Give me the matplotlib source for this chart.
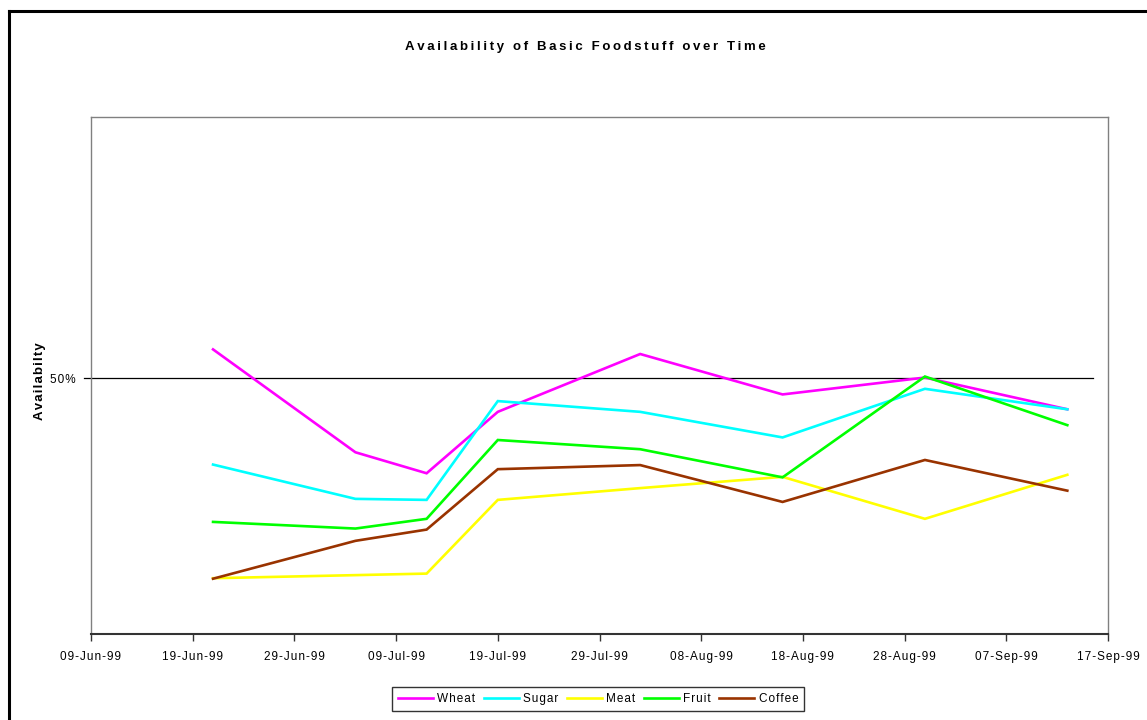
import numpy as np
import pandas as pd
import matplotlib
matplotlib.use("Agg")
import matplotlib.pyplot as plt
import matplotlib.dates as mdates
import matplotlib.transforms as mtransforms
from matplotlib.lines import Line2D

plt.rcParams["font.family"] = ["Liberation Sans", "DejaVu Sans"]

dates = pd.to_datetime(["1999-06-21", "1999-07-05", "1999-07-12", "1999-07-19",
                        "1999-08-02", "1999-08-16", "1999-08-30", "1999-09-13"])

wheat = [0.556, 0.355, 0.314, 0.434, 0.547, 0.468, 0.501, 0.439]
sugar = [0.331, 0.264, 0.262, 0.455, 0.434, 0.384, 0.479, 0.439]
meat = [0.109, 0.115, 0.118, 0.262, 0.285, 0.307, 0.225, 0.311]
fruit = [0.219, 0.206, 0.225, 0.379, 0.361, 0.306, 0.503, 0.408]
coffee = [0.108, 0.182, 0.204, 0.322, 0.330, 0.258, 0.340, 0.280]

series = [("Wheat", wheat, "#FF00FF"),
          ("Sugar", sugar, "#00FFFF"),
          ("Meat", meat, "#FFFF00"),
          ("Fruit", fruit, "#00FF00"),
          ("Coffee", coffee, "#993300")]

x_start = pd.Timestamp("1999-06-09")
x_end = pd.Timestamp("1999-09-17")


def spaced(s, gap="\u200a"):
    # widen the tracking a little by putting a narrow space between letters
    return gap.join(s)


fig = plt.figure(figsize=(11.47, 7.2), dpi=100)
ax = fig.add_axes([91 / 1147, 86 / 720, 1017 / 1147, 517 / 720])

for name, vals, color in series:
    ax.plot(dates, vals, color=color, linewidth=1.9, label=spaced(name),
            solid_joinstyle="miter")

# 50% reference line, running slightly past the left axis
trans = mtransforms.blended_transform_factory(ax.transAxes, ax.transData)
ax.plot([-0.007, 0.985], [0.5, 0.5], color="black", linewidth=0.9,
        transform=trans, clip_on=False, zorder=1)

ax.set_xlim(x_start, x_end)
ax.set_ylim(0, 1.01)
ticks = pd.date_range(x_start, x_end, freq="10D")
ax.set_xticks(ticks)
ax.set_xticklabels([spaced(d.strftime("%d-%b-%y")) for d in ticks], fontsize=8.5)
ax.set_yticks([0.5])
ax.set_yticklabels([spaced("50%")], fontsize=8.5)
ax.tick_params(axis="y", length=0, pad=11)
ax.tick_params(axis="x", direction="out", length=5, width=1, color="#333333", pad=7)

for side in ("left", "top", "right"):
    ax.spines[side].set_color("#808080")
    ax.spines[side].set_linewidth(1)
ax.spines["bottom"].set_color("#333333")
ax.spines["bottom"].set_linewidth(1.5)

fig.text(585 / 1147, 1 - 47 / 720,
         spaced("Availability of Basic Foodstuff over Time", "\u2009"),
         ha="center", va="center", fontsize=9.5, fontweight="bold")
fig.text(40 / 1147, 1 - 381 / 720, spaced("Availabilty"), rotation=90,
         ha="center", va="center", fontsize=9.5, fontweight="bold")

leg = ax.legend(loc="center", bbox_to_anchor=(598 / 1147, 1 - 699 / 720),
                bbox_transform=fig.transFigure, ncol=5, fontsize=8.5,
                frameon=True, fancybox=False, handlelength=3.0,
                handletextpad=0.35, columnspacing=0.7, borderpad=0.5)
leg.get_frame().set_edgecolor("black")
leg.get_frame().set_linewidth(1)

# outer chart border (left and top edges)
fig.add_artist(Line2D([9 / 1147, 9 / 1147], [1 - 11 / 720, 0], color="black",
                      linewidth=2.2, transform=fig.transFigure))
fig.add_artist(Line2D([9 / 1147, 1], [1 - 11 / 720, 1 - 11 / 720], color="black",
                      linewidth=2.2, transform=fig.transFigure))

fig.savefig("out.png", dpi=100)
